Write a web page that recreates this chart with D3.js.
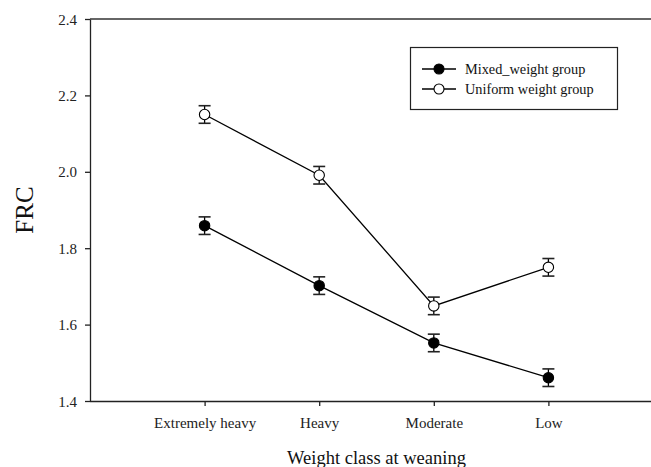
<!DOCTYPE html>
<html><head><meta charset="utf-8">
<script src="https://cdn.jsdelivr.net/npm/d3@7"></script>
<style>body{margin:0;background:#fff}svg{display:block;font-family:"Liberation Serif","Times New Roman",serif}</style>
</head><body><svg id="c" width="651" height="467"></svg>
<script>
const categories = ["Extremely heavy","Heavy","Moderate","Low"];
const mixedValues = [1.859, 1.702, 1.552, 1.461];
const mixedErrors = [0.023, 0.023, 0.023, 0.023];
const uniformValues = [2.150, 1.991, 1.649, 1.750];
const uniformErrors = [0.023, 0.023, 0.023, 0.023];
const yTicks = [1.4, 1.6, 1.8, 2.0, 2.2, 2.4];
const seriesNames = ["Mixed_weight group","Uniform weight group"];

const svg = d3.select("#c");
const L = 90, R = 663, T = 19, B = 401;
const x = d3.scalePoint().domain(categories).range([L, R]).padding(1);
const y = d3.scaleLinear().domain([1.4, 2.4]).range([B, T]);

svg.append("line").attr("x1", L).attr("x2", R).attr("y1", T).attr("y2", T)
  .attr("stroke", "#333").attr("stroke-width", 1.5);

const yAxis = svg.append("g").attr("transform", `translate(${L},0)`)
  .call(d3.axisLeft(y).tickValues(yTicks).tickFormat(d3.format(".1f")).tickSize(5).tickSizeOuter(0));
const xAxis = svg.append("g").attr("transform", `translate(0,${B})`)
  .call(d3.axisBottom(x).tickSize(5).tickSizeOuter(0));
xAxis.select(".domain").attr("d", `M${L},0.5H${R}`);
[yAxis, xAxis].forEach(a => {
  a.attr("font-family", null);
  a.selectAll("path,line").attr("stroke", "#222").attr("stroke-width", 1.3);
  a.selectAll("text").attr("fill", "#222").style("font-family", '"Liberation Serif",serif').style("font-size", "15px");
});
yAxis.selectAll("text").attr("x", -13).attr("dy", "0.34em");
xAxis.selectAll("text").attr("y", 16).attr("dy", "0.71em");

svg.append("text").attr("transform", `translate(33,${(T + B) / 2}) rotate(-90)`)
  .attr("text-anchor", "middle").style("font-size", "25px").attr("fill", "#111").text("FRC");
svg.append("text").attr("x", (L + R) / 2).attr("y", 464)
  .attr("text-anchor", "middle").style("font-size", "18.5px").attr("fill", "#111").text("Weight class at weaning");

const series = [
  {name: seriesNames[0], vals: mixedValues, errs: mixedErrors, fill: "#000"},
  {name: seriesNames[1], vals: uniformValues, errs: uniformErrors, fill: "#fff"}
];
const line = d3.line().x((d, i) => x(categories[i])).y(d => y(d));
series.forEach(s => {
  const g = svg.append("g");
  g.append("path").attr("d", line(s.vals)).attr("fill", "none").attr("stroke", "#000").attr("stroke-width", 1.3);
  s.vals.forEach((v, i) => {
    const cx = x(categories[i]);
    const e = s.errs[i];
    g.append("line").attr("x1", cx).attr("x2", cx).attr("y1", y(v + e)).attr("y2", y(v - e)).attr("stroke", "#000").attr("stroke-width", 1.3);
    [v + e, v - e].forEach(w => g.append("line").attr("x1", cx - 6).attr("x2", cx + 6).attr("y1", y(w)).attr("y2", y(w)).attr("stroke", "#222").attr("stroke-width", 1.6));
    g.append("circle").attr("cx", cx).attr("cy", y(v)).attr("r", 5.2).attr("fill", s.fill).attr("stroke", "#000").attr("stroke-width", 1.1);
  });
});

const lg = svg.append("g");
lg.append("rect").attr("x", 410.5).attr("y", 47.5).attr("width", 207).attr("height", 62)
  .attr("fill", "#fff").attr("stroke", "#222").attr("stroke-width", 1.2);
series.forEach((s, i) => {
  const yy = 69 + i * 20;
  lg.append("line").attr("x1", 422).attr("x2", 456).attr("y1", yy).attr("y2", yy).attr("stroke", "#000").attr("stroke-width", 1.3);
  lg.append("circle").attr("cx", 439).attr("cy", yy).attr("r", 5).attr("fill", s.fill).attr("stroke", "#000").attr("stroke-width", 1.1);
  lg.append("text").attr("x", 465).attr("y", yy).attr("dy", "0.35em").style("font-size", "14.3px").attr("fill", "#111").text(s.name);
});
</script></body></html>
